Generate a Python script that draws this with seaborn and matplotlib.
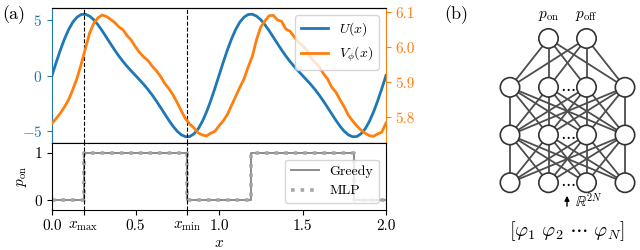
import numpy as np
import matplotlib
matplotlib.use("Agg")
import matplotlib.pyplot as plt
from matplotlib.patches import Circle
import seaborn as sns

# potential U(x) (step 0.025, period 1)
x_grid = np.linspace(0, 2, 81)
u_period = [0.00, 1.17, 2.28, 3.28, 4.13, 4.79, 5.23, 5.47, 5.49, 5.32,
            5.00, 4.55, 4.02, 3.44, 2.86, 2.29, 1.75, 1.26, 0.81, 0.40,
            0.00, -0.40, -0.81, -1.26, -1.75, -2.29, -2.86, -3.44, -4.02, -4.55,
            -5.00, -5.32, -5.49, -5.47, -5.23, -4.79, -4.13, -3.28, -2.28, -1.17]
u_vals = u_period + u_period + [0.00]

# learned V_phi(x)
v_vals = [5.783, 5.797, 5.812, 5.830, 5.851, 5.880, 5.912, 5.952, 5.996, 6.040,
          6.068, 6.084, 6.092, 6.088, 6.080, 6.071, 6.058, 6.050, 6.033, 6.020,
          6.001, 5.985, 5.972, 5.962, 5.946, 5.933, 5.917, 5.897, 5.882, 5.864,
          5.842, 5.818, 5.796, 5.781, 5.770, 5.756, 5.750, 5.747, 5.755, 5.760,
          5.776, 5.790, 5.808, 5.834, 5.860, 5.886, 5.910, 5.944, 5.975, 6.022,
          6.058, 6.075, 6.090, 6.091, 6.078, 6.074, 6.052, 6.046, 6.030, 6.015,
          6.004, 5.993, 5.970, 5.958, 5.944, 5.925, 5.910, 5.886, 5.872, 5.850,
          5.830, 5.806, 5.790, 5.776, 5.764, 5.755, 5.748, 5.746, 5.753, 5.758,
          5.784]

x_max = 0.19
x_min = 0.81

# p_on switching (steps-post)
step_x = [0.0, 0.19, 0.81, 1.19, 1.81, 2.0]
greedy_p = [0, 1, 0, 1, 0, 0]
mlp_p = [0, 1, 0, 1, 0, 0]

x_ticks = [0.0, x_max, 0.5, x_min, 1.0, 1.5, 2.0]
x_ticklabels = ['0.0', r'$x_{\max}$', '0.5', r'$x_{\min}$', '1.0', '1.5', '2.0']

blue = '#1f77b4'
orange = '#ff7f0e'

plt.rcParams['font.family'] = 'serif'
plt.rcParams['font.serif'] = ['cmr10']
plt.rcParams['mathtext.fontset'] = 'cm'
plt.rcParams['axes.formatter.use_mathtext'] = True
plt.rcParams['font.size'] = 11
plt.rcParams['axes.unicode_minus'] = True

fig = plt.figure(figsize=(6.4, 2.5), dpi=100)

# ---- panel (a), top: potentials
ax = fig.add_axes([52 / 640, 1 - 143 / 250, 334 / 640, 135 / 250])
ax2 = ax.twinx()
sns.lineplot(x=x_grid, y=u_vals, ax=ax, color=blue, lw=2, label=r'$U(x)$', legend=False)
sns.lineplot(x=x_grid, y=v_vals, ax=ax2, color=orange, lw=2, label=r'$V_\phi(x)$', legend=False)
ax.set_xlim(0, 2)
ax.set_ylim(-6.05, 6.05)
ax2.set_ylim(5.727, 6.112)
ax.set_yticks([-5, 0, 5])
ax2.set_yticks([5.8, 5.9, 6.0, 6.1])
ax2.set_yticklabels(['5.8', '5.9', '6.0', '6.1'])
ax.tick_params(axis='y', colors=blue, labelsize=11)
ax2.tick_params(axis='y', colors=orange, labelsize=11)
ax.tick_params(axis='x', bottom=False, labelbottom=False)
ax.spines['left'].set_color(blue)
ax.spines['right'].set_visible(False)
ax2.spines['left'].set_visible(False)
ax2.spines['right'].set_color(orange)
for xv in (x_max, x_min):
    ax.axvline(xv, color='k', ls='--', lw=0.8)
h1, l1 = ax.get_legend_handles_labels()
h2, l2 = ax2.get_legend_handles_labels()
ax2.legend(h1 + h2, l1 + l2, loc='upper right', fontsize=10)

# ---- panel (a), bottom: p_on
axb = fig.add_axes([52 / 640, 1 - 210 / 250, 334 / 640, 67 / 250])
sns.lineplot(x=step_x, y=greedy_p, ax=axb, color='#8c8c8c', lw=1.4,
             drawstyle='steps-post', label='Greedy', legend=False)
sns.lineplot(x=step_x, y=mlp_p, ax=axb, color='#a6a6a6', lw=2.6, ls=':',
             drawstyle='steps-post', label='MLP', legend=False)
for xv in (x_max, x_min):
    axb.axvline(xv, color='k', ls='--', lw=0.8)
axb.set_xlim(0, 2)
axb.set_ylim(-0.2, 1.2)
axb.set_yticks([0, 1])
axb.set_yticklabels(['0', '1'])
axb.set_xticks(x_ticks)
axb.set_xticklabels(x_ticklabels)
axb.tick_params(labelsize=11)
axb.set_xlabel(r'$x$', fontsize=11, labelpad=2)
axb.set_ylabel(r'$p_{\rm on}$', fontsize=11)
axb.legend(loc='lower right', fontsize=10)

fig.text(14 / 640, 1 - 15 / 250, '(a)', fontsize=13, ha='center', va='center')

# ---- panel (b): network sketch (pixel coordinates)
axn = fig.add_axes([420 / 640, 0, 220 / 640, 1])
axn.set_xlim(420, 640)
axn.set_ylim(250, 0)
axn.axis('off')

out_x = [548.5, 586.5]
hid_x = [510, 548.5, 586.5, 625]
layer_y = [38.5, 87.3, 135, 182.7]
r_node = 9.7
layers = [[(xx, layer_y[0]) for xx in out_x]] + \
         [[(xx, yy) for xx in hid_x] for yy in layer_y[1:]]
for la, lb in zip(layers[:-1], layers[1:]):
    for (xa, ya) in la:
        for (xb, yb) in lb:
            axn.plot([xa, xb], [ya, yb], color='#4d4d4d', lw=1.3, zorder=1)
for layer in layers:
    for (xx, yy) in layer:
        axn.add_patch(Circle((xx, yy), r_node, facecolor='white',
                             edgecolor='#333333', lw=1.2, zorder=3))
for yy in layer_y[1:]:
    axn.text(567.5, yy, r'$\cdots$', ha='center', va='center', fontsize=12, zorder=4)

axn.text(out_x[0], 16, r'$p_{\rm on}$', ha='center', va='center', fontsize=11)
axn.text(out_x[1], 16, r'$p_{\rm off}$', ha='center', va='center', fontsize=11)
axn.annotate('', xy=(567, 193), xytext=(567, 209),
             arrowprops=dict(arrowstyle='-|>', color='k', lw=1, mutation_scale=7))
axn.text(575, 201, r'$\mathbb{R}^{2N}$', ha='left', va='center', fontsize=10.5)
axn.text(567, 231, r'$[\boldsymbol{\varphi}_1\ \boldsymbol{\varphi}_2\ \cdots\ \boldsymbol{\varphi}_N]$',
         ha='center', va='center', fontsize=14.5)
axn.text(456, 15, '(b)', ha='center', va='center', fontsize=13)

fig.savefig('out.png', dpi=100)
